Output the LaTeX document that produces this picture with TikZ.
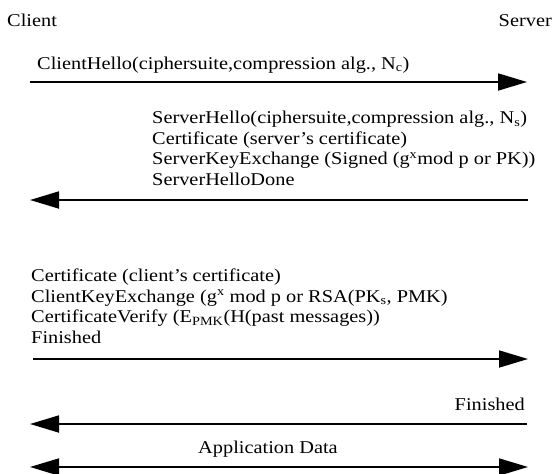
\documentclass[tikz,border=0pt]{standalone}
\usepackage{fontspec}
\setmainfont{Liberation Serif}[FakeStretch=1.13]
\usetikzlibrary{arrows.meta}
\tikzset{
  msg/.style={font=\fontsize{18}{20.4}\selectfont, inner sep=0pt, align=left},
  flow/.style={line width=1.8pt, -{Triangle[length=29pt,width=17pt]}},
  both/.style={line width=1.8pt, {Triangle[length=29pt,width=17pt]}-{Triangle[length=29pt,width=17pt]}},
}
\begin{document}
\begin{tikzpicture}[x=1pt,y=-1pt]
\useasboundingbox (0,0) rectangle (552,474);
% parties
\node[msg, anchor=base west] (client) at (7,26) {Client};
\node[msg, anchor=base east] (server) at (552,26) {Server};
% client hello
\node[msg, anchor=base west] (chello) at (37,69) {ClientHello(ciphersuite,compression alg., N\textsubscript{c})};
\coordinate (a1) at (30,82);
\coordinate (b1) at (527,82);
\draw[flow] (a1) -- (b1);
% server hello block (anchored on the baseline of its last line)
\node[msg, anchor=base west] (shello) at (152,185) {ServerHello(ciphersuite,compression alg., N\textsubscript{s})\\
Certificate (server's certificate)\\
ServerKeyExchange (Signed (g\textsuperscript{x}mod p or PK))\\
ServerHelloDone};
\coordinate (a2) at (528,200);
\coordinate (b2) at (30,200);
\draw[flow] (a2) -- (b2);
% client key exchange block (anchored on the baseline of its last line)
\node[msg, anchor=base west] (ckex) at (31,343) {Certificate (client's certificate)\\
ClientKeyExchange (g\textsuperscript{x} mod p or RSA(PK\textsubscript{s}, PMK)\\
CertificateVerify (E\textsubscript{PMK}(H(past messages))\\
Finished};
\coordinate (a3) at (33,359);
\coordinate (b3) at (528,359);
\draw[flow] (a3) -- (b3);
% server finished
\node[msg, anchor=base east] (sfin) at (525,410) {Finished};
\coordinate (a4) at (527,424);
\coordinate (b4) at (30,424);
\draw[flow] (a4) -- (b4);
% application data
\node[msg, anchor=base] (appdata) at (268,453) {Application Data};
\coordinate (a5) at (30,467);
\coordinate (b5) at (528,467);
\draw[both] (a5) -- (b5);
\end{tikzpicture}
\end{document}
